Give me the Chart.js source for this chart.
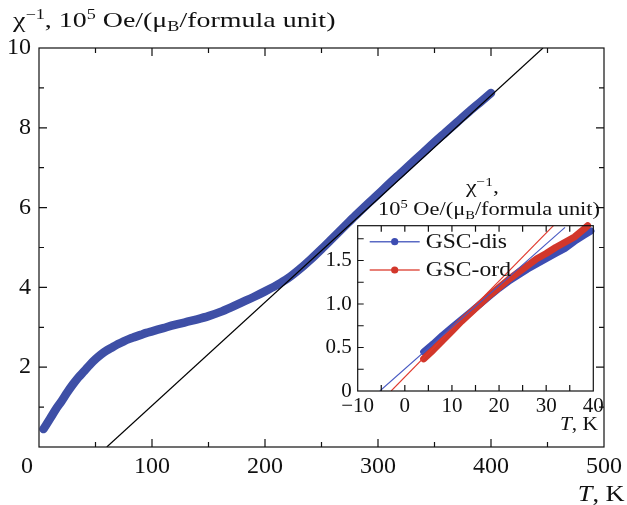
<!DOCTYPE html>
<html>
<head>
<meta charset="utf-8">
<script src="https://cdn.jsdelivr.net/npm/chart.js@4.4.1/dist/chart.umd.min.js"></script>
<style>
  html, body { margin: 0; padding: 0; background: #fff; }
  #wrap { position: relative; width: 627px; height: 505px; font-family: "Liberation Serif", serif; color: #111; }
  #main { position: absolute; left: 0; top: 0; }
  #ins { position: absolute; left: 320px; top: 160px; }
  .lbl { position: absolute; white-space: nowrap; transform-origin: left top; }
  .lbl sup, .lbl sub { font-size: 0.65em; position: relative; vertical-align: baseline; line-height: 0; }
  .lbl sup { top: -0.55em; }
  .lbl sub { top: 0.3em; }
</style>
</head>
<body>
<div id="wrap">
  <canvas id="main" width="627" height="505"></canvas>
  <canvas id="ins" width="290" height="290"></canvas>
  <div class="lbl" style="left:13px;top:9px;font-size:22px;line-height:22px;transform:scaleX(1.27);">χ<sup>−1</sup>, 10<sup>5</sup> Oe/(μ<sub>B</sub>/formula unit)</div>
  <div class="lbl" style="left:21px;top:453px;font-size:24px;line-height:24px;">0</div>
  <div class="lbl" style="right:2px;left:auto;top:481px;font-size:24px;line-height:24px;transform-origin:right top;transform:scaleX(1.1);"><i>T</i>, K</div>
  <div class="lbl" style="left:466px;top:177px;font-size:19px;line-height:19px;transform:scaleX(1.25);">χ<sup>−1</sup>,</div>
  <div class="lbl" style="left:378px;top:199px;font-size:19px;line-height:19px;transform:scaleX(1.18);">10<sup>5</sup> Oe/(μ<sub>B</sub>/formula unit)</div>
  <div class="lbl" style="right:29px;left:auto;top:414px;font-size:19px;line-height:19px;transform-origin:right top;transform:scaleX(1.12);"><i>T</i>, K</div>
</div>
<script>
// main panel: inverse susceptibility vs temperature
const mainT = [4, 10, 15, 20, 25, 30, 35, 40, 45, 50, 55, 60, 65, 70, 75, 80, 85, 90, 95, 100,
  110, 120, 130, 140, 150, 160, 170, 180, 190, 200, 210, 220, 230, 240, 250, 260, 270, 280, 290, 300,
  310, 320, 330, 340, 350, 360, 370, 380, 390, 400];
const mainChi = [0.45, 0.72, 0.95, 1.15, 1.37, 1.57, 1.75, 1.9, 2.06, 2.2, 2.32, 2.42, 2.5, 2.58, 2.65, 2.71, 2.76, 2.81, 2.86, 2.9,
  2.98, 3.06, 3.13, 3.2, 3.28, 3.38, 3.5, 3.63, 3.76, 3.9, 4.05, 4.22, 4.44, 4.69, 4.96, 5.24, 5.52, 5.8, 6.07, 6.33,
  6.6, 6.86, 7.12, 7.38, 7.64, 7.89, 8.14, 8.39, 8.63, 8.87];
const mainFitT = [60, 446];
const mainFitChi = [0, 10];

const mainXLabels = [0, 100, 200, 300, 400, 500];
const mainXMinor = [50, 150, 250, 350, 450];
const mainYLabels = [2, 4, 6, 8, 10];
const mainYMinor = [1, 3, 5, 7, 9];

// inset: low temperature part, two samples
const insTDis = [4, 6, 8, 10, 12, 14, 16, 18, 20, 22, 24, 26, 28, 30, 32, 34, 36, 38, 39.5];
const insChiDis = [0.45, 0.54, 0.64, 0.73, 0.82, 0.91, 1.0, 1.09, 1.18, 1.26, 1.33, 1.4, 1.46, 1.52, 1.58, 1.64, 1.72, 1.79, 1.84];
const insTOrd = [4, 6, 8, 10, 12, 14, 16, 18, 20, 22, 24, 26, 28, 30, 32, 34, 36, 38, 38.8];
const insChiOrd = [0.37, 0.47, 0.58, 0.69, 0.8, 0.9, 1.0, 1.1, 1.19, 1.28, 1.36, 1.44, 1.52, 1.58, 1.65, 1.71, 1.77, 1.86, 1.9];
const fitDisT = [-5.3, 34];
const fitDisChi = [0, 1.88];
const fitOrdT = [-2.9, 31.7];
const fitOrdChi = [0, 1.91];

const insXLabels = [-10, 0, 10, 20, 30, 40];
const insXMinor = [-5, 5, 15, 25, 35];
const insYLabels = [0, 0.5, 1.0, 1.5];
const insYMinor = [0.25, 0.75, 1.25, 1.75];

const pts = (xs, ys) => xs.map((x, i) => ({ x, y: ys[i] }));
const serif = '"Liberation Serif", serif';

// box frame with inward ticks
const frameTicks = {
  id: 'frameTicks',
  afterDraw(chart, args, o) {
    const { ctx, chartArea: a, scales: { x, y } } = chart;
    ctx.save();
    ctx.strokeStyle = '#111';
    ctx.lineWidth = 1.2;
    ctx.strokeRect(a.left, a.top, a.right - a.left, a.bottom - a.top);
    ctx.beginPath();
    const xt = o.xMajor.map(v => [v, o.major]).concat(o.xMinor.map(v => [v, o.minor]));
    const yt = o.yMajor.map(v => [v, o.major]).concat(o.yMinor.map(v => [v, o.minor]));
    xt.forEach(([v, len]) => {
      const p = x.getPixelForValue(v);
      if (p <= a.left + 1 || p >= a.right - 1) return;
      if (o.bottom) { ctx.moveTo(p, a.bottom); ctx.lineTo(p, a.bottom - len); }
      if (o.top) { ctx.moveTo(p, a.top); ctx.lineTo(p, a.top + len); }
    });
    yt.forEach(([v, len]) => {
      const p = y.getPixelForValue(v);
      if (p <= a.top + 1 || p >= a.bottom - 1) return;
      if (o.left) { ctx.moveTo(a.left, p); ctx.lineTo(a.left + len, p); }
      if (o.right) { ctx.moveTo(a.right, p); ctx.lineTo(a.right - len, p); }
    });
    ctx.stroke();
    ctx.restore();
  }
};

// legend: short line with a dot in the middle, then the label
const dotLegend = {
  id: 'dotLegend',
  afterDraw(chart, args, o) {
    const { ctx, chartArea: a } = chart;
    ctx.save();
    o.items.forEach((it, i) => {
      const ly = a.top + o.y0 + i * o.gap;
      ctx.strokeStyle = it.line;
      ctx.lineWidth = 1.6;
      ctx.beginPath();
      ctx.moveTo(a.left + 12, ly);
      ctx.lineTo(a.left + 62, ly);
      ctx.stroke();
      ctx.fillStyle = it.color;
      ctx.beginPath();
      ctx.arc(a.left + 37, ly, 3.6, 0, Math.PI * 2);
      ctx.fill();
      ctx.fillStyle = '#111';
      ctx.font = '20px ' + serif;
      ctx.textBaseline = 'middle';
      ctx.save();
      ctx.translate(a.left + 68, ly + 1);
      ctx.scale(1.18, 1);
      ctx.fillText(it.text, 0, 0);
      ctx.restore();
    });
    ctx.restore();
  }
};

const fixTicks = list => scale => { scale.ticks = list.map(v => ({ value: v })); };
const minus = v => (v < 0 ? '−' + Math.abs(v) : String(v));
const noGrid = { display: false, drawTicks: false };

new Chart(document.getElementById('main'), {
  type: 'scatter',
  data: {
    datasets: [
      { data: pts(mainFitT, mainFitChi), showLine: true, borderColor: '#000', borderWidth: 1.2,
        pointRadius: 0, order: 0 },
      { data: pts(mainT, mainChi), showLine: true, borderColor: '#3e4fa6', borderWidth: 8.5,
        borderCapStyle: 'round', borderJoinStyle: 'round', cubicInterpolationMode: 'monotone',
        pointRadius: 0, order: 1, clip: 6 }
    ]
  },
  options: {
    responsive: false, animation: false, events: [],
    layout: { padding: { left: 0, right: 21, top: 48, bottom: 0 } },
    plugins: {
      legend: { display: false }, tooltip: { enabled: false },
      frameTicks: { xMajor: mainXLabels, xMinor: mainXMinor, yMajor: mainYLabels, yMinor: mainYMinor,
        major: 8, minor: 5, left: true, right: true, top: true, bottom: true }
    },
    scales: {
      x: {
        type: 'linear', min: 0, max: 500,
        afterBuildTicks: fixTicks(mainXLabels),
        afterFit: s => { s.height = 58; },
        grid: noGrid, border: { display: false },
        ticks: { color: '#111', font: { family: serif, size: 24 }, padding: 5, maxRotation: 0,
          callback: v => (v === 0 ? '' : v) }
      },
      y: {
        type: 'linear', min: 0, max: 10,
        afterBuildTicks: fixTicks(mainYLabels),
        afterFit: s => { s.width = 39; },
        grid: noGrid, border: { display: false },
        ticks: { color: '#111', font: { family: serif, size: 24 }, padding: 8 }
      }
    }
  },
  plugins: [frameTicks]
});

new Chart(document.getElementById('ins'), {
  type: 'scatter',
  data: {
    datasets: [
      { data: pts(fitDisT, fitDisChi), showLine: true, borderColor: '#4658c2', borderWidth: 1.1,
        pointRadius: 0, order: 0 },
      { data: pts(fitOrdT, fitOrdChi), showLine: true, borderColor: '#e0392d', borderWidth: 1.1,
        pointRadius: 0, order: 0 },
      { data: pts(insTOrd, insChiOrd), showLine: true, borderColor: '#d2372b', borderWidth: 7,
        borderCapStyle: 'round', borderJoinStyle: 'round', pointRadius: 0, order: 1, clip: 5 },
      { data: pts(insTDis, insChiDis), showLine: true, borderColor: '#3d4db2', borderWidth: 7,
        borderCapStyle: 'round', borderJoinStyle: 'round', pointRadius: 0, order: 2, clip: 5 }
    ]
  },
  options: {
    responsive: false, animation: false, events: [],
    layout: { padding: { left: 0, right: 16.7, top: 65.7, bottom: 0 } },
    plugins: {
      legend: { display: false }, tooltip: { enabled: false },
      frameTicks: { xMajor: insXLabels, xMinor: insXMinor, yMajor: insYLabels, yMinor: insYMinor,
        major: 6, minor: 6, left: true, right: false, top: true, bottom: true },
      dotLegend: { y0: 16, gap: 28.3, items: [
        { text: 'GSC-dis', color: '#3d4db2', line: '#5a6ac4' },
        { text: 'GSC-ord', color: '#d2372b', line: '#e0564a' }
      ] }
    },
    scales: {
      x: {
        type: 'linear', min: -10, max: 40,
        afterBuildTicks: fixTicks(insXLabels),
        afterFit: s => { s.height = 59; },
        grid: noGrid, border: { display: false },
        ticks: { color: '#111', font: { family: serif, size: 21 }, padding: 3, maxRotation: 0, callback: minus }
      },
      y: {
        type: 'linear', min: 0, max: 1.9,
        afterBuildTicks: fixTicks(insYLabels),
        afterFit: s => { s.width = 37.7; },
        grid: noGrid, border: { display: false },
        ticks: { color: '#111', font: { family: serif, size: 21 }, padding: 6,
          callback: v => (v === 0 ? '0' : v.toFixed(1)) }
      }
    }
  },
  plugins: [frameTicks, dotLegend]
});
</script>
</body>
</html>
